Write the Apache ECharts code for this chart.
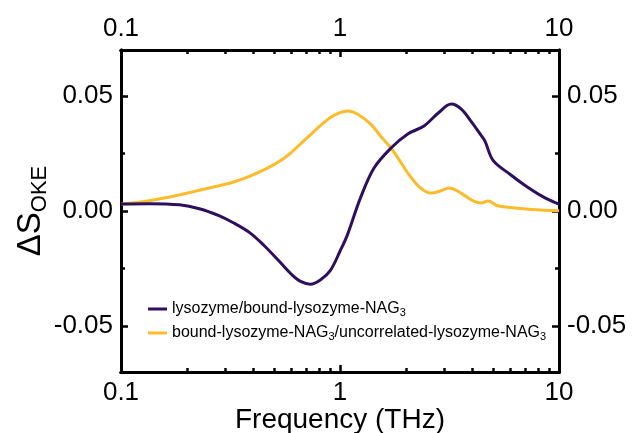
<!DOCTYPE html>
<html>
<head>
<meta charset="utf-8">
<script src="https://cdn.jsdelivr.net/npm/echarts@6/dist/echarts.min.js"></script>
<style>
html,body{margin:0;padding:0;background:#fff;}
#chart{width:632px;height:433px;}
</style>
</head>
<body>
<div id="chart"></div>
<script>
// ---- data ----
var freqPurple = [0.1, 0.135, 0.185, 0.228, 0.28, 0.324, 0.388, 0.45, 0.532, 0.6, 0.657, 0.732, 0.813, 0.904, 1.0, 1.08, 1.24, 1.43, 1.71, 2.04, 2.42, 2.81, 3.22, 3.58, 4.0, 4.36, 4.59, 5.0, 5.97, 7.28, 8.63, 10];
var valPurple  = [0.0030, 0.0032, 0.0027, 0.0010, -0.0020, -0.0050, -0.0095, -0.0150, -0.0222, -0.0275, -0.0305, -0.0318, -0.0300, -0.0258, -0.0175, -0.0105, 0.0057, 0.0187, 0.0274, 0.0335, 0.0370, 0.0426, 0.0465, 0.0443, 0.0385, 0.0335, 0.0304, 0.0220, 0.0160, 0.0100, 0.0057, 0.0030];

var freqYellow = [0.1, 0.135, 0.185, 0.228, 0.28, 0.324, 0.388, 0.464, 0.532, 0.6, 0.657, 0.73, 0.79, 0.9, 1.0, 1.09, 1.2, 1.38, 1.55, 1.71, 1.9, 2.04, 2.3, 2.6, 2.9, 3.15, 3.4, 3.7, 4.1, 4.4, 4.75, 5.2, 6.0, 7.5, 10];
var valYellow  = [0.0030, 0.0045, 0.0070, 0.0090, 0.0110, 0.0125, 0.0152, 0.0185, 0.0217, 0.0255, 0.0290, 0.0330, 0.0360, 0.0405, 0.0428, 0.0435, 0.0422, 0.0378, 0.0320, 0.0274, 0.0210, 0.0165, 0.0105, 0.0078, 0.0088, 0.0100, 0.0090, 0.0068, 0.0042, 0.0035, 0.0043, 0.0024, 0.0015, 0.0007, 0.0001];

var seriesNames = ['lysozyme/bound-lysozyme-NAG3', 'bound-lysozyme-NAG3/uncorrelated-lysozyme-NAG3'];
var xTickLabels = [0.1, 1, 10];
var xMinorTicks = [0.2, 0.3, 0.4, 0.5, 0.6, 0.7, 0.8, 0.9, 2, 3, 4, 5, 6, 7, 8, 9];
var yTickLabels = [-0.05, 0.00, 0.05];
var yMinorTicks = [-0.025, 0.025];

// ---- chart ----
var FONT = "'Liberation Sans', Arial, Helvetica, sans-serif";
var chart = echarts.init(document.getElementById('chart'), null, {renderer: 'canvas'});

function pairs(xs, ys) { return xs.map(function (x, i) { return [x, ys[i]]; }); }

// main log axes: line, labels, name (data is plotted on these)
function xLogAxis(pos) {
  return {
    type: 'log', logBase: 10, min: 0.1, max: 10, position: pos,
    axisLine: {show: true, onZero: false, lineStyle: {color: '#000', width: 3}},
    axisTick: {show: false},
    axisLabel: {show: true, customValues: xTickLabels, margin: 8,
                color: '#000', fontSize: 26, fontFamily: FONT,
                formatter: function (v) { return String(+(+v).toPrecision(3)); }},
    splitLine: {show: false},
    name: pos === 'bottom' ? 'Frequency (THz)' : '',
    nameLocation: 'middle', nameGap: 34, nameMoveOverlap: false,
    nameTextStyle: {color: '#000', fontSize: 28, fontFamily: FONT}
  };
}
// tick-only axes in decades (log10 of frequency) for the log ticks
function xTickAxis(pos, major) {
  var vals = (major ? xTickLabels : xMinorTicks).map(function (f) { return Math.log10(f); });
  return {
    type: 'value', min: -1, max: 1, position: pos,
    axisLine: {show: true, onZero: false, lineStyle: {color: '#000', width: 3}},
    axisTick: {show: true, inside: true, length: major ? 7 : 4, customValues: vals,
               lineStyle: {color: '#000', width: 2.5}},
    axisLabel: {show: false},
    splitLine: {show: false}
  };
}
function yAxisDef(pos, major) {
  return {
    type: 'value', min: -0.07, max: 0.07, position: pos,
    axisLine: {show: true, onZero: false, lineStyle: {color: '#000', width: 3}},
    axisTick: {show: true, inside: true, length: major ? 7 : 4,
               customValues: major ? yTickLabels : yMinorTicks,
               lineStyle: {color: '#000', width: 2.5}},
    axisLabel: {show: major, customValues: yTickLabels, margin: 8,
                color: '#000', fontSize: 26, fontFamily: FONT,
                formatter: function (v) { return (+v).toFixed(2); }},
    splitLine: {show: false},
    name: (pos === 'left' && major) ? '{m|ΔS}{s|OKE}' : '',
    nameLocation: 'middle', nameRotate: 90, nameGap: 70, nameMoveOverlap: false,
    nameTextStyle: {color: '#000', fontFamily: FONT,
      rich: {
        m: {fontSize: 33, lineHeight: 40, fontFamily: FONT, color: '#000'},
        s: {fontSize: 22, lineHeight: 22, verticalAlign: 'bottom', fontFamily: FONT, color: '#000'}
      }}
  };
}

var option = {
  backgroundColor: '#fff',
  animation: false,
  grid: {left: 121, right: 73, top: 50, bottom: 61, containLabel: false, outerBoundsMode: 'none'},
  xAxis: [xLogAxis('bottom'), xLogAxis('top'),
          xTickAxis('bottom', true), xTickAxis('top', true),
          xTickAxis('bottom', false), xTickAxis('top', false)],
  yAxis: [yAxisDef('left', true), yAxisDef('right', true), yAxisDef('left', false), yAxisDef('right', false)],
  legend: {
    orient: 'vertical', left: 148, top: 300, padding: 0, itemGap: 6,
    itemWidth: 19, itemHeight: 3, icon: 'rect',
    data: seriesNames,
    formatter: function (n) { return n.replace(/NAG3/g, 'NAG{s|3}'); },
    textStyle: {color: '#000', fontSize: 16, fontFamily: FONT, lineHeight: 18,
      rich: {s: {fontSize: 11, lineHeight: 11, verticalAlign: 'bottom', fontFamily: FONT, color: '#000'}}}
  },
  series: [
    {name: seriesNames[0], type: 'line', xAxisIndex: 0, yAxisIndex: 0,
     data: pairs(freqPurple, valPurple), showSymbol: false, symbol: 'none',
     smooth: 0.35, color: '#2e0f5e',
     lineStyle: {color: '#2e0f5e', width: 3}, z: 3},
    {name: seriesNames[1], type: 'line', xAxisIndex: 0, yAxisIndex: 0,
     data: pairs(freqYellow, valYellow), showSymbol: false, symbol: 'none',
     smooth: 0.35, color: '#fdba2a',
     lineStyle: {color: '#fdba2a', width: 3}, z: 2}
  ]
};
chart.setOption(option);
</script>
</body>
</html>
